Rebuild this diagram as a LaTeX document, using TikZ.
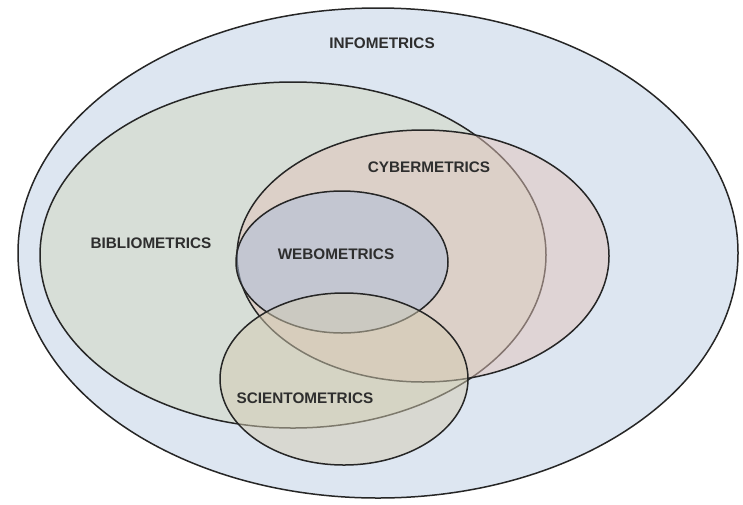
\documentclass[tikz,border=0pt]{standalone}
\usepackage{fontspec}
\setmainfont{Liberation Sans}
\usetikzlibrary{shapes.geometric}
\definecolor{infoC}{RGB}{221,230,241}
\definecolor{biblC}{RGB}{210,216,190}
\definecolor{cybC}{RGB}{226,196,186}
\definecolor{webC}{RGB}{172,190,218}
\definecolor{sciC}{RGB}{212,204,178}
\tikzset{
  setarea/.style={ellipse, draw=black!85, line width=1.5pt, inner sep=0pt, fill opacity=0.5, text opacity=1},
  lbl/.style={font=\bfseries\fontsize{15.3}{17}\selectfont, text=black!82, inner sep=0pt}
}
\begin{document}
\begin{tikzpicture}[x=1pt,y=-1pt]
\useasboundingbox (0,0) rectangle (743,504);
\fill[white] (0,0) rectangle (743,504);
\node[setarea, fill=infoC, fill opacity=1, minimum width=720pt, minimum height=490pt] (info) at (378,253) {};
\node[setarea, fill=biblC, minimum width=506pt, minimum height=346pt] (bibl) at (293,255) {};
\node[setarea, fill=cybC, minimum width=372pt, minimum height=252pt] (cyb) at (423,256) {};
\node[setarea, fill=webC, minimum width=212pt, minimum height=142pt] (web) at (342,262) {};
\node[setarea, fill=sciC, minimum width=248pt, minimum height=172pt] (sci) at (344,379) {};
\node[lbl] (tinfo) at (382,43) {INFOMETRICS};
\node[lbl] (tcyb) at (429,167) {CYBERMETRICS};
\node[lbl] (tbibl) at (151,243) {BIBLIOMETRICS};
\node[lbl] (tweb) at (336,254) {WEBOMETRICS};
\node[lbl] (tsci) at (305,398) {SCIENTOMETRICS};
\end{tikzpicture}
\end{document}
